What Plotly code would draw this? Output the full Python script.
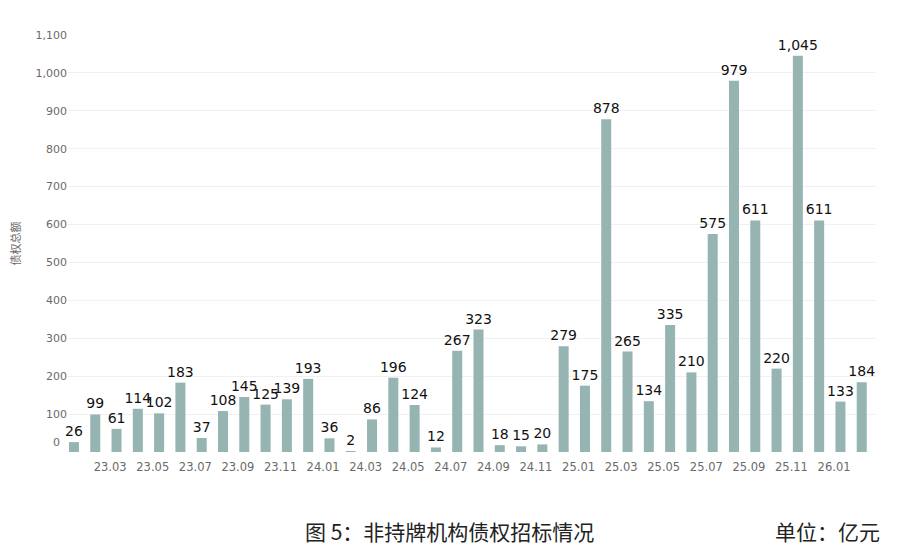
import plotly.graph_objects as go

months = ["23.01", "23.02", "23.03", "23.04", "23.05", "23.06", "23.07", "23.08", "23.09", "23.10", "23.11", "23.12",
          "24.01", "24.02", "24.03", "24.04", "24.05", "24.06", "24.07", "24.08", "24.09", "24.10", "24.11", "24.12",
          "25.01", "25.02", "25.03", "25.04", "25.05", "25.06", "25.07", "25.08", "25.09", "25.10", "25.11", "25.12",
          "26.01", "26.02"]
values = [26, 99, 61, 114, 102, 183, 37, 108, 145, 125, 139, 193,
          36, 2, 86, 196, 124, 12, 267, 323, 18, 15, 20, 279,
          175, 878, 265, 134, 335, 210, 575, 979, 611, 220, 1045, 611,
          133, 184]
tick_labels = ["23.03", "23.05", "23.07", "23.09", "23.11", "24.01", "24.03", "24.05", "24.07", "24.09", "24.11",
               "25.01", "25.03", "25.05", "25.07", "25.09", "25.11", "26.01"]
y_ticks = [100, 200, 300, 400, 500, 600, 700, 800, 900, 1000, 1100]

idx = list(range(len(months)))
tick_pos = [months.index(t) - 0.3 for t in tick_labels]

fig = go.Figure()
fig.add_trace(go.Bar(
    x=idx, y=values, width=0.47,
    marker=dict(color="#95B4B2", line=dict(width=0)),
    text=[f"{v:,}" for v in values], textposition="outside",
    constraintext="none", cliponaxis=False,
    textfont=dict(family="DejaVu Sans", size=14, color="#111111"),
    hoverinfo="skip",
))

fig.update_layout(
    width=900, height=554,
    margin=dict(l=68, r=24, t=35, b=102),
    plot_bgcolor="white", paper_bgcolor="white",
    showlegend=False, bargap=0.5,
    xaxis=dict(range=[-0.28, 37.67], tickvals=tick_pos, ticktext=tick_labels,
               showgrid=False, zeroline=False, showline=False,
               ticks="outside", ticklen=4, tickcolor="rgba(0,0,0,0)",
               tickfont=dict(family="DejaVu Sans", size=11.5, color="#6A6A6A")),
    yaxis=dict(range=[0, 1100], tickvals=y_ticks, tickformat=",",
               showgrid=True, gridcolor="#F0F0F0", gridwidth=1,
               zeroline=False, showline=False,
               tickfont=dict(family="DejaVu Sans", size=11, color="#6A6A6A"),
               title=dict(text="债权总额", standoff=12,
                          font=dict(family="Noto Sans CJK SC", size=11, color="#6A6A6A"))),
    annotations=[
        dict(text="0", xref="paper", yref="y", x=0, y=25, xanchor="right", yanchor="middle",
             xshift=-6, showarrow=False, font=dict(family="DejaVu Sans", size=11, color="#6A6A6A")),
        dict(text="图 5：非持牌机构债权招标情况", xref="paper", yref="paper", x=0.291, y=-0.19,
             xanchor="left", yanchor="middle", showarrow=False,
             font=dict(family="Noto Sans CJK SC", size=21, color="#222222")),
        dict(text="单位：亿元", xref="paper", yref="paper", x=1.007, y=-0.19,
             xanchor="right", yanchor="middle", showarrow=False,
             font=dict(family="Noto Sans CJK SC", size=21, color="#222222")),
    ],
)

fig.write_html("out.html")
